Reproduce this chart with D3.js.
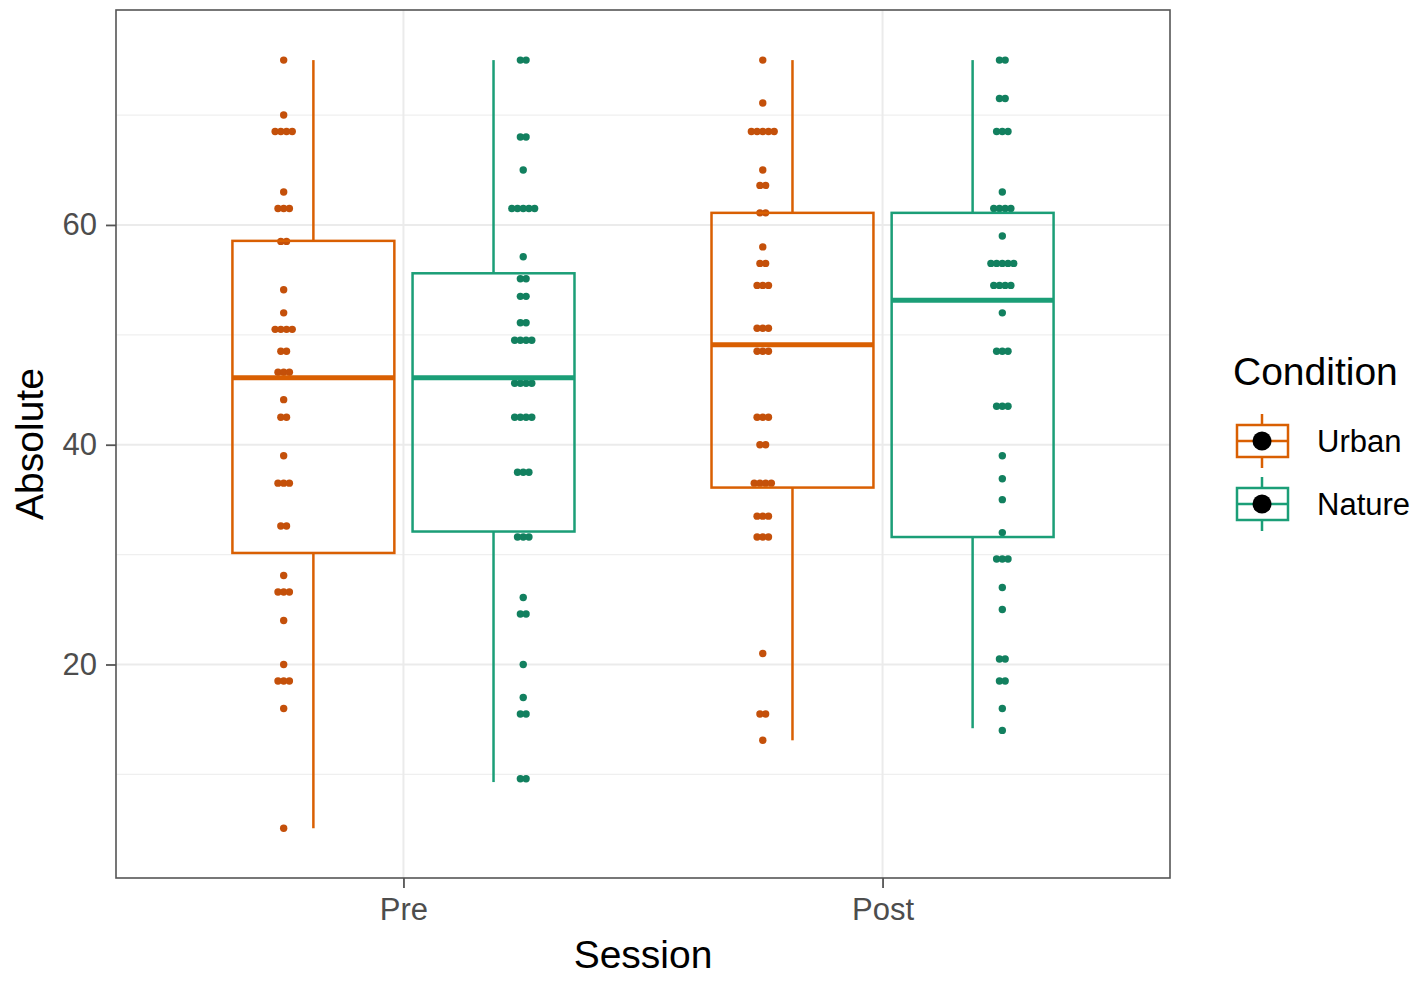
<!DOCTYPE html>
<html lang="en">
<head>
  <meta charset="UTF-8">
  <title>Absolute by Session and Condition</title>
  <script src="https://d3js.org/d3.v7.min.js"></script>
  <style>
    body { margin: 0; background: #fff; }
    text { font-family: "Liberation Sans", Arial, Helvetica, sans-serif; }
    .tick-label { font-size: 31px; fill: #4d4d4d; }
    .axis-title { font-size: 39px; fill: #000; }
    .legend-label { font-size: 31px; fill: #000; }
  </style>
</head>
<body>
  <div id="chart"></div>

  <script>
    // categories
    const sessions = ["Pre", "Post"];
    const conditions = ["Urban", "Nature"];
    const conditionColors = ["#D95F02", "#1B9E77"];
    const dotColors = ["#C4500A", "#12805F"];
    const yTicks = [20, 40, 60];
    const yMinorTicks = [10, 30, 50, 70];

    // raw dot values (one entry per dot)
    const urbanPre = [75, 70, 68.5, 68.5, 68.5, 68.5, 63, 61.5, 61.5, 61.5, 58.5, 58.5,
      54.1, 52, 50.5, 50.5, 50.5, 50.5, 48.5, 48.5, 46.6, 46.6, 46.6, 44.1, 42.5, 42.5,
      39, 36.5, 36.5, 36.5, 32.6, 32.6, 28.1, 26.6, 26.6, 26.6, 24, 20, 18.5, 18.5, 18.5, 16, 5.1];
    const naturePre = [75, 75, 68, 68, 65, 61.5, 61.5, 61.5, 61.5, 61.5, 57.1, 55.1, 55.1,
      53.5, 53.5, 51.1, 51.1, 49.5, 49.5, 49.5, 49.5, 45.6, 45.6, 45.6, 45.6, 42.5, 42.5, 42.5, 42.5,
      37.5, 37.5, 37.5, 31.6, 31.6, 31.6, 26.1, 24.6, 24.6, 20, 17, 15.5, 15.5, 9.6, 9.6];
    const urbanPost = [75, 71.1, 68.5, 68.5, 68.5, 68.5, 68.5, 65, 63.6, 63.6, 61.1, 61.1, 58,
      56.5, 56.5, 54.5, 54.5, 54.5, 50.6, 50.6, 50.6, 48.5, 48.5, 48.5, 42.5, 42.5, 42.5, 40, 40,
      36.5, 36.5, 36.5, 36.5, 33.5, 33.5, 33.5, 31.6, 31.6, 31.6, 21, 15.5, 15.5, 13.1];
    const naturePost = [75, 75, 71.5, 71.5, 68.5, 68.5, 68.5, 63, 61.5, 61.5, 61.5, 61.5, 59,
      56.5, 56.5, 56.5, 56.5, 56.5, 54.5, 54.5, 54.5, 54.5, 52, 48.5, 48.5, 48.5, 43.5, 43.5, 43.5,
      39, 36.9, 35, 32, 29.6, 29.6, 29.6, 27, 25, 20.5, 20.5, 18.5, 18.5, 16, 14];

    // box statistics, order: Urban-Pre, Nature-Pre, Urban-Post, Nature-Post
    const boxLower  = [5.1, 9.3, 13.1, 14.2];
    const boxQ1     = [30.15, 32.1, 36.1, 31.6];
    const boxMedian = [46.1, 46.1, 49.1, 53.15];
    const boxQ3     = [58.55, 55.6, 61.1, 61.1];
    const boxUpper  = [75, 75, 75, 75];

    const groups = [
      { session: "Pre", condition: "Urban", values: urbanPre },
      { session: "Pre", condition: "Nature", values: naturePre },
      { session: "Post", condition: "Urban", values: urbanPost },
      { session: "Post", condition: "Nature", values: naturePost }
    ];
    groups.forEach((g, i) => {
      g.lower = boxLower[i]; g.q1 = boxQ1[i]; g.median = boxMedian[i];
      g.q3 = boxQ3[i]; g.upper = boxUpper[i];
    });

    const width = 1418, height = 982;
    const panel = { left: 116, right: 1170, top: 10, bottom: 878 };

    const svg = d3.select("#chart").append("svg")
      .attr("width", width)
      .attr("height", height);

    const x = d3.scalePoint()
      .domain(sessions)
      .range([panel.left, panel.right])
      .padding(0.6);
    const step = x.step();

    const y = d3.scaleLinear()
      .domain([0.57, 79.56])
      .range([panel.bottom, panel.top]);

    const color = d3.scaleOrdinal().domain(conditions).range(conditionColors);
    const dotColor = d3.scaleOrdinal().domain(conditions).range(dotColors);

    // dodge offsets in units of the session step
    const boxOffset = d3.scaleOrdinal().domain(conditions).range([-0.188, 0.188]);
    const dotOffset = d3.scaleOrdinal().domain(conditions).range([-0.25, 0.25]);
    const boxWidth = 0.338 * step;

    // grid
    const grid = svg.append("g");
    grid.selectAll(".minor")
      .data(yMinorTicks)
      .join("line")
      .attr("x1", panel.left).attr("x2", panel.right)
      .attr("y1", d => y(d)).attr("y2", d => y(d))
      .attr("stroke", "#efefef").attr("stroke-width", 1.2);
    grid.selectAll(".major")
      .data(yTicks)
      .join("line")
      .attr("x1", panel.left).attr("x2", panel.right)
      .attr("y1", d => y(d)).attr("y2", d => y(d))
      .attr("stroke", "#ebebeb").attr("stroke-width", 2);
    grid.selectAll(".xmajor")
      .data(sessions)
      .join("line")
      .attr("x1", d => x(d)).attr("x2", d => x(d))
      .attr("y1", panel.top).attr("y2", panel.bottom)
      .attr("stroke", "#ebebeb").attr("stroke-width", 2);

    // dots, stacked centred on each column
    const dotSpacing = 5.7;
    groups.forEach(g => {
      const cx = x(g.session) + dotOffset(g.condition) * step;
      const bins = d3.rollups(g.values, v => v.length, d => d);
      const dots = [];
      bins.forEach(([value, n]) => {
        for (let i = 0; i < n; i++) {
          dots.push({ value, pos: (i - (n - 1) / 2) * dotSpacing });
        }
      });
      svg.append("g").selectAll("circle")
        .data(dots)
        .join("circle")
        .attr("cx", d => cx + d.pos)
        .attr("cy", d => y(d.value))
        .attr("r", 3.7)
        .attr("fill", dotColor(g.condition));
    });

    // boxplots
    groups.forEach(g => {
      const cx = x(g.session) + boxOffset(g.condition) * step;
      const c = color(g.condition);
      const b = svg.append("g")
        .attr("fill", "none")
        .attr("stroke", c);
      b.append("line")
        .attr("x1", cx).attr("x2", cx)
        .attr("y1", y(g.upper)).attr("y2", y(g.q3))
        .attr("stroke-width", 2.5);
      b.append("line")
        .attr("x1", cx).attr("x2", cx)
        .attr("y1", y(g.q1)).attr("y2", y(g.lower))
        .attr("stroke-width", 2.5);
      b.append("rect")
        .attr("x", cx - boxWidth / 2)
        .attr("y", y(g.q3))
        .attr("width", boxWidth)
        .attr("height", y(g.q1) - y(g.q3))
        .attr("stroke-width", 2.5);
      b.append("line")
        .attr("x1", cx - boxWidth / 2).attr("x2", cx + boxWidth / 2)
        .attr("y1", y(g.median)).attr("y2", y(g.median))
        .attr("stroke-width", 5);
    });

    // panel border
    svg.append("rect")
      .attr("x", panel.left).attr("y", panel.top)
      .attr("width", panel.right - panel.left)
      .attr("height", panel.bottom - panel.top)
      .attr("fill", "none")
      .attr("stroke", "#555")
      .attr("stroke-width", 1.6);

    // axes
    const yAxis = svg.append("g")
      .attr("transform", `translate(${panel.left},0)`)
      .call(d3.axisLeft(y).tickValues(yTicks).tickSize(10).tickPadding(9));
    const xAxis = svg.append("g")
      .attr("transform", `translate(0,${panel.bottom})`)
      .call(d3.axisBottom(x).tickSize(10).tickPadding(10));
    [yAxis, xAxis].forEach(a => {
      a.select(".domain").remove();
      a.selectAll(".tick line").attr("stroke", "#555").attr("stroke-width", 1.8);
      a.selectAll(".tick text")
        .attr("class", "tick-label")
        .attr("font-size", null)
        .attr("font-family", null);
    });
    yAxis.attr("font-size", null).attr("font-family", null);
    xAxis.attr("font-size", null).attr("font-family", null);

    svg.append("text")
      .attr("class", "axis-title")
      .attr("x", (panel.left + panel.right) / 2)
      .attr("y", 968)
      .attr("text-anchor", "middle")
      .text("Session");

    svg.append("text")
      .attr("class", "axis-title")
      .attr("transform", `translate(43,${(panel.top + panel.bottom) / 2}) rotate(-90)`)
      .attr("text-anchor", "middle")
      .text("Absolute");

    // legend
    const legend = svg.append("g");
    legend.append("text")
      .attr("class", "axis-title")
      .attr("x", 1233)
      .attr("y", 385)
      .text("Condition");

    const keyTop = [425, 488];
    conditions.forEach((cond, i) => {
      const k = legend.append("g")
        .attr("transform", `translate(1262,${keyTop[i]})`);
      const c = color(cond);
      k.append("line")
        .attr("x1", 0).attr("x2", 0).attr("y1", -11).attr("y2", 43)
        .attr("stroke", c).attr("stroke-width", 2.5);
      k.append("rect")
        .attr("x", -25).attr("y", 0).attr("width", 51).attr("height", 32)
        .attr("fill", "#fff").attr("stroke", c).attr("stroke-width", 2.5);
      k.append("line")
        .attr("x1", -25).attr("x2", 26).attr("y1", 16).attr("y2", 16)
        .attr("stroke", c).attr("stroke-width", 2.5);
      k.append("circle")
        .attr("cx", 0).attr("cy", 16).attr("r", 9.5)
        .attr("fill", "#000");
      legend.append("text")
        .attr("class", "legend-label")
        .attr("x", 1317)
        .attr("y", keyTop[i] + 27)
        .text(cond);
    });
  </script>
</body>
</html>
